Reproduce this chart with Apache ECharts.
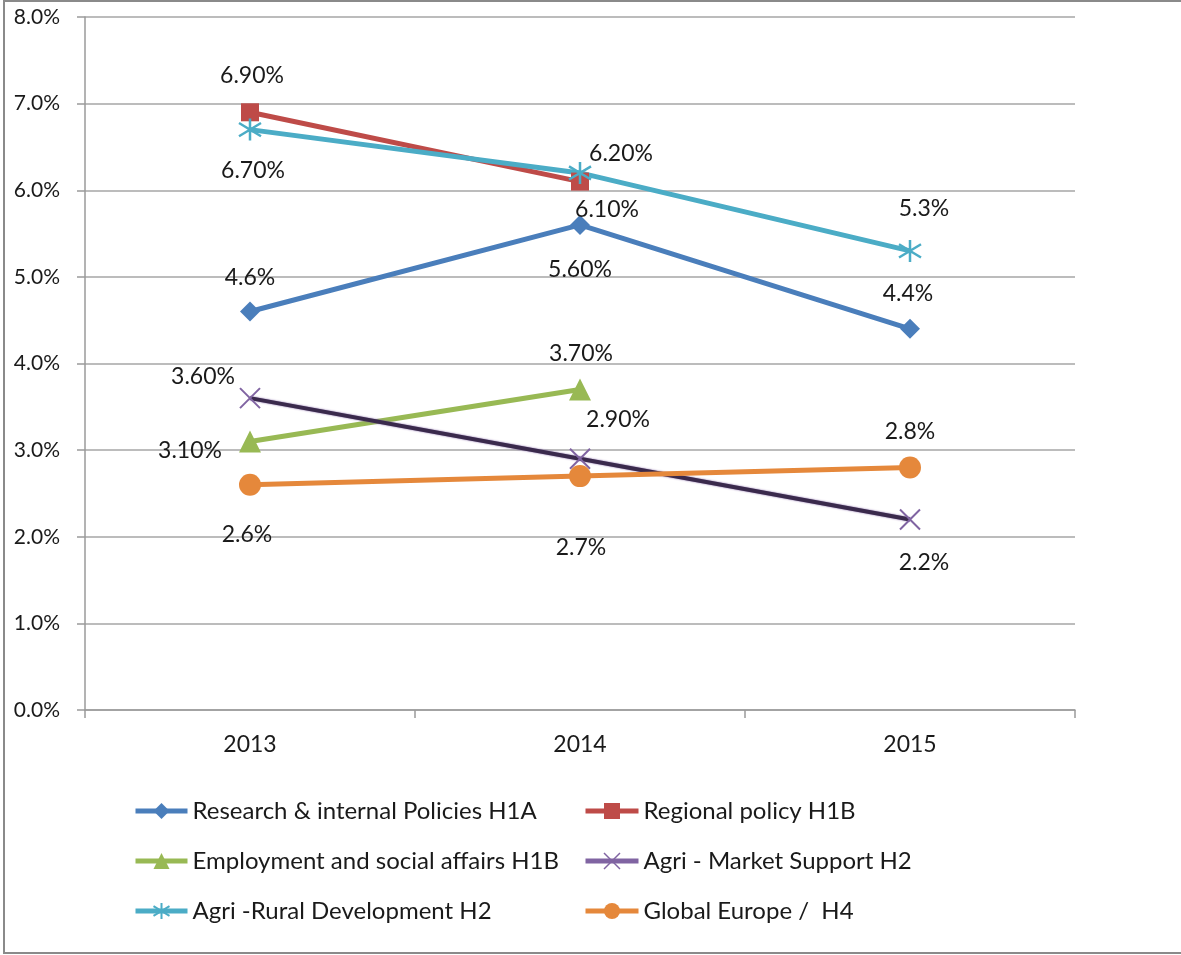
<!DOCTYPE html>
<html>
<head>
<meta charset="utf-8">
<script src="https://cdn.jsdelivr.net/npm/echarts@6/dist/echarts.min.js"></script>
<style>
html,body{margin:0;padding:0;background:#fff;}
#c{width:1181px;height:955px;}
</style>
</head>
<body>
<div id="c"></div>
<script>
// ---- data ----
const years = ['2013', '2014', '2015'];
const yTicks = [0, 1, 2, 3, 4, 5, 6, 7, 8];

const research = [4.6, 5.6, 4.4];
const researchLabels = ['4.6%', '5.60%', '4.4%'];

const regional = [6.9, 6.1, null];
const regionalLabels = ['6.90%', '6.10%', ''];

const employment = [3.1, 3.7, null];
const employmentLabels = ['3.10%', '3.70%', ''];

const market = [3.6, 2.9, 2.2];
const marketLabels = ['3.60%', '2.90%', '2.2%'];

const rural = [6.7, 6.2, 5.3];
const ruralLabels = ['6.70%', '6.20%', '5.3%'];

const globalEurope = [2.6, 2.7, 2.8];
const globalLabels = ['2.6%', '2.7%', '2.8%'];

const names = [
  'Research & internal Policies H1A',
  'Regional policy H1B',
  'Employment and social affairs H1B',
  'Agri - Market Support H2',
  'Agri -Rural Development H2',
  'Global Europe /  H4'
];

// ---- styling (label offsets relative to each point) ----
const FONT = 'Lato';
const labelOffsets = {
  research:   [[0, -34], [0, 45], [-2, -35]],
  regional:   [[2, -37], [27, 28], [0, 0]],
  employment: [[-60, 9], [1, -36], [0, 0]],
  market:     [[-47, -22], [38, -39], [14, 43]],
  rural:      [[3, 41], [41, -19], [14, -42]],
  global:     [[-3, 50], [1, 71], [0, -36]]
};

function makeData(values, labels, offsets) {
  return values.map((v, i) => ({
    value: v,
    label: {
      show: v !== null,
      formatter: labels[i],
      position: 'inside',
      offset: offsets[i]
    }
  }));
}

const labelStyle = {fontFamily: FONT, fontSize: 23, color: '#1a1a1a'};

const asterisk = 'path://M0,-10 L0,10 M-8.66,-6 L8.66,6 M-8.66,6 L8.66,-6';
const cross = 'path://M-8,-8 L8,8 M-8,8 L8,-8';

function series(name, values, labels, offsets, color, symbol, size, width, extra) {
  const s = {
    name: name,
    type: 'line',
    data: makeData(values, labels, offsets),
    symbol: symbol,
    symbolSize: size,
    showAllSymbol: true,
    connectNulls: false,
    lineStyle: {color: color, width: width},
    itemStyle: {color: color},
    label: Object.assign({}, labelStyle),
    emphasis: {disabled: true},
    animation: false
  };
  return Object.assign(s, extra || {});
}

const chart = echarts.init(document.getElementById('c'), null, {renderer: 'canvas'});

const legendText = {fontFamily: FONT, fontSize: 24, color: '#1a1a1a', lineHeight: 24};

const option = {
  backgroundColor: '#ffffff',
  animation: false,
  grid: {left: 85, right: 106, top: 17, bottom: 245, containLabel: false},
  xAxis: {
    type: 'category',
    data: years,
    boundaryGap: true,
    axisLine: {show: true, lineStyle: {color: '#9a9a9a', width: 1.5}},
    axisTick: {show: true, inside: false, length: 8, lineStyle: {color: '#9a9a9a', width: 1.5}},
    axisLabel: {fontFamily: FONT, fontSize: 23, color: '#1a1a1a', margin: 23},
    splitLine: {show: false}
  },
  yAxis: {
    type: 'value',
    min: yTicks[0],
    max: yTicks[yTicks.length - 1],
    interval: 1,
    axisLine: {show: true, lineStyle: {color: '#9a9a9a', width: 1.5}},
    axisTick: {show: true, length: 8, lineStyle: {color: '#9a9a9a', width: 1.5}},
    axisLabel: {
      fontFamily: FONT, fontSize: 21, color: '#1a1a1a', margin: 25,
      formatter: v => v.toFixed(1) + '%'
    },
    splitLine: {show: true, lineStyle: {color: '#a6a6a6', width: 1.5}}
  },
  legend: [
    {
      data: [
        {name: names[0], lineStyle: {width: 5}},
        {name: names[2], lineStyle: {width: 5}},
        {name: names[4], lineStyle: {width: 5}}
      ],
      orient: 'vertical',
      left: 133, top: 799, padding: 0,
      itemWidth: 52, itemHeight: 20, itemGap: 26,
      textStyle: legendText,
      selectedMode: false
    },
    {
      data: [
        {name: names[1], lineStyle: {width: 5}},
        {name: names[3], itemStyle: {color: 'none', borderColor: '#8064a2', borderWidth: 1.5}, lineStyle: {color: '#8064a2', width: 5}},
        {name: names[5], lineStyle: {width: 5}}
      ],
      orient: 'vertical',
      left: 583, top: 799, padding: 0,
      itemWidth: 53, itemHeight: 20, itemGap: 26,
      textStyle: legendText,
      selectedMode: false
    }
  ],
  graphic: [{
    type: 'rect',
    shape: {x: 4, y: 1, width: 1180, height: 952},
    style: {fill: 'none', stroke: '#8a8a8a', lineWidth: 2},
    silent: true,
    z: 100
  }],
  series: [
    series(names[0], research, researchLabels, labelOffsets.research, '#4a7ebb', 'diamond', 20, 5),
    series(names[1], regional, regionalLabels, labelOffsets.regional, '#be4b48', 'rect', 18, 5),
    series(names[2], employment, employmentLabels, labelOffsets.employment, '#98b954', 'triangle', 22, 5),
    series(names[3], market, marketLabels, labelOffsets.market, '#8064a2', cross, 20, 4, {
      lineStyle: {color: '#3a2a4c', width: 4, shadowColor: '#8064a2', shadowBlur: 2},
      itemStyle: {color: 'none', borderColor: '#8064a2', borderWidth: 2}
    }),
    series(names[4], rural, ruralLabels, labelOffsets.rural, '#4bacc6', asterisk, 22, 5, {
      itemStyle: {color: 'none', borderColor: '#4bacc6', borderWidth: 2.5}
    }),
    series(names[5], globalEurope, globalLabels, labelOffsets.global, '#e5883b', 'circle', 22, 5)
  ]
};

chart.setOption(option);
</script>
</body>
</html>
